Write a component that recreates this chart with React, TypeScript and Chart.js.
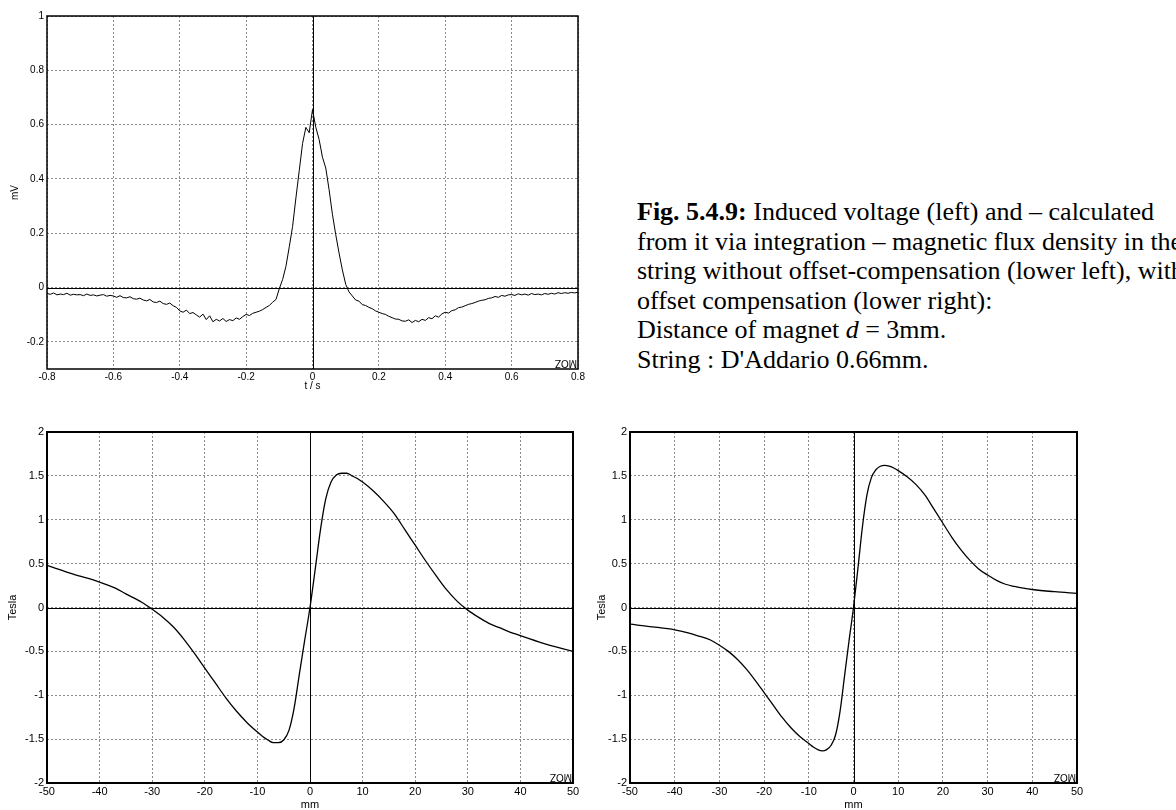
import React, { useEffect, useRef } from "react";
import { Chart, registerables } from "chart.js";

Chart.register(...registerables);

// ---------- Top chart: induced voltage (mV) vs t (s) ----------
const voltageStartT = -0.8;
const voltageStepT = 0.01;
const voltageValues = [
  -0.022, -0.025, -0.02, -0.027, -0.024, -0.026, -0.021, -0.028, -0.025, -0.027,
  -0.026, -0.03, -0.024, -0.029, -0.027, -0.031, -0.028, -0.026, -0.032, -0.029,
  -0.031, -0.036, -0.03, -0.037, -0.038, -0.034, -0.041, -0.043, -0.039, -0.046,
  -0.049, -0.044, -0.053, -0.055, -0.05, -0.059, -0.062, -0.057, -0.067, -0.073,
  -0.086, -0.091, -0.083, -0.096, -0.092, -0.101, -0.109, -0.098, -0.118, -0.104,
  -0.126, -0.117, -0.123, -0.114, -0.125, -0.118, -0.122, -0.112, -0.117, -0.107,
  -0.099, -0.103, -0.095, -0.091, -0.087, -0.081, -0.073, -0.066, -0.054, -0.044,
  -0.004, 0.03, 0.078, 0.15, 0.225, 0.33, 0.43, 0.53, 0.59, 0.57,
  0.655, 0.59, 0.545, 0.48, 0.44, 0.36, 0.27, 0.195, 0.127, 0.065,
  0.012, -0.016, -0.031, -0.046, -0.05, -0.063, -0.066, -0.073, -0.078, -0.086,
  -0.091, -0.096, -0.099, -0.106, -0.111, -0.116, -0.117, -0.123, -0.124, -0.119,
  -0.129, -0.121, -0.126, -0.117, -0.121, -0.111, -0.115, -0.104, -0.109, -0.097,
  -0.091, -0.094, -0.085, -0.082, -0.074, -0.072, -0.067, -0.062, -0.059, -0.055,
  -0.05, -0.047, -0.045, -0.04, -0.038, -0.033, -0.036, -0.029, -0.032, -0.027,
  -0.026, -0.029, -0.023, -0.027, -0.024, -0.028, -0.022, -0.026, -0.024, -0.027,
  -0.022, -0.025, -0.021, -0.024, -0.019, -0.022, -0.019, -0.021, -0.018, -0.02,
  -0.017,
];
const voltageXTicks = [-0.8, -0.6, -0.4, -0.2, 0, 0.2, 0.4, 0.6, 0.8];
const voltageXLabels = ["-0.8", "-0.6", "-0.4", "-0.2", "0", "0.2", "0.4", "0.6", "0.8"];
const voltageYTicks = [-0.2, 0, 0.2, 0.4, 0.6, 0.8, 1];
const voltageYLabels = ["-0.2", "0", "0.2", "0.4", "0.6", "0.8", "1"];

// ---------- Bottom charts: flux density (Tesla) vs position (mm) ----------
const positionMm = [
  -50, -45, -40, -37, -35, -32, -30, -28, -26, -24, -22, -20, -18, -16, -14, -12, -10,
  -9, -8, -7, -6, -5, -4, -3, -2, -1, 0, 1, 2, 3, 4, 5, 6, 7, 8, 9, 10,
  12, 14, 16, 18, 20, 22, 24, 26, 28, 30, 32, 34, 36, 38, 40, 45, 50,
];
const fluxUncompensated = [
  0.48, 0.38, 0.29, 0.22, 0.155, 0.06, -0.02, -0.11, -0.22, -0.36, -0.52, -0.69, -0.86, -1.03, -1.18, -1.31, -1.42,
  -1.47, -1.51, -1.54, -1.54, -1.51, -1.4, -1.14, -0.75, -0.37, 0, 0.44, 0.89, 1.24, 1.43, 1.51, 1.53, 1.53, 1.5, 1.47, 1.43,
  1.33, 1.21, 1.07, 0.89, 0.71, 0.53, 0.36, 0.2, 0.07, -0.03, -0.11, -0.18, -0.23, -0.28, -0.32, -0.42, -0.5,
];
const fluxCompensated = [
  -0.19, -0.22, -0.255, -0.29, -0.32, -0.37, -0.43, -0.5, -0.59, -0.7, -0.83, -0.97, -1.11, -1.25, -1.37, -1.47, -1.55,
  -1.59, -1.62, -1.635, -1.62, -1.57, -1.45, -1.18, -0.78, -0.38, 0, 0.45, 0.92, 1.28, 1.48, 1.57, 1.61, 1.62, 1.61, 1.59, 1.56,
  1.49, 1.4, 1.28, 1.12, 0.96, 0.8, 0.66, 0.54, 0.44, 0.37, 0.31, 0.265, 0.24, 0.22, 0.205, 0.18, 0.16,
];
const mmXTicks = [-50, -40, -30, -20, -10, 0, 10, 20, 30, 40, 50];
const mmXLabels = ["-50", "-40", "-30", "-20", "-10", "0", "10", "20", "30", "40", "50"];
const teslaYTicks = [-2, -1.5, -1, -0.5, 0, 0.5, 1, 1.5, 2];
const teslaYLabels = ["-2", "-1.5", "-1", "-0.5", "0", "0.5", "1", "1.5", "2"];

const captionLines = [
  "from it via integration \u2013 magnetic flux density in the",
  "string without offset-compensation (lower left), with",
  "offset compensation (lower right):",
];

const SANS = "'Liberation Sans', Arial, Helvetica, sans-serif";

const framePlugin = {
  id: "mozFrame",
  beforeDatasetsDraw(chart: any) {
    const { ctx, chartArea, scales } = chart;
    const { left, right, top, bottom } = chartArea;
    const fw = chart.options.plugins.mozFrame?.frameWidth ?? 1.5;
    ctx.save();
    ctx.strokeStyle = "#000";
    ctx.lineWidth = 1;
    const x0 = Math.round(scales.x.getPixelForValue(0)) + 0.5;
    const y0 = Math.round(scales.y.getPixelForValue(0)) + 0.5;
    ctx.beginPath();
    ctx.moveTo(x0, top);
    ctx.lineTo(x0, bottom);
    ctx.moveTo(left, y0);
    ctx.lineTo(right, y0);
    ctx.stroke();
    ctx.lineWidth = fw;
    ctx.strokeRect(left, top, right - left, bottom - top);
    ctx.restore();
  },
  afterDatasetsDraw(chart: any) {
    const { ctx, chartArea } = chart;
    ctx.save();
    ctx.translate(chartArea.right - 12, chartArea.bottom - 6);
    ctx.rotate(Math.PI);
    ctx.fillStyle = "#000";
    ctx.font = `10px ${SANS}`;
    ctx.textAlign = "center";
    ctx.textBaseline = "middle";
    ctx.fillText("MOZ", 0, 0);
    ctx.restore();
  },
};

type PanelProps = {
  left: number;
  top: number;
  width: number;
  height: number;
  xs: number[];
  ys: number[];
  xMin: number;
  xMax: number;
  yMin: number;
  yMax: number;
  xTicks: number[];
  xLabels: string[];
  yTicks: number[];
  yLabels: string[];
  xTitle: string;
  yTitle: string;
  pad: { top: number; right: number };
  yAxisWidth: number;
  xAxisHeight: number;
  yTitlePad: number;
  fontSize: number;
  smooth: boolean;
  lineWidth: number;
  frameWidth: number;
};

function Panel(p: PanelProps) {
  const ref = useRef<HTMLCanvasElement | null>(null);
  useEffect(() => {
    if (!ref.current) return;
    const data = p.xs.map((x, i) => ({ x, y: p.ys[i] }));
    const gridOpts = {
      color: "#8c8c8c",
      lineWidth: 1,
      drawTicks: false,
    };
    const chart = new Chart(ref.current, {
      type: "line",
      data: {
        datasets: [
          {
            data,
            borderColor: "#000",
            borderWidth: p.lineWidth,
            pointRadius: 0,
            tension: p.smooth ? 0.4 : 0,
            cubicInterpolationMode: p.smooth ? "monotone" : "default",
            fill: false,
          },
        ],
      },
      options: {
        responsive: false,
        animation: false,
        parsing: false as any,
        normalized: true,
        layout: { padding: { top: p.pad.top, right: p.pad.right, left: 0, bottom: 0 } },
        plugins: {
          legend: { display: false },
          tooltip: { enabled: false },
          mozFrame: { frameWidth: p.frameWidth },
        } as any,
        scales: {
          x: {
            type: "linear",
            min: p.xMin,
            max: p.xMax,
            grid: gridOpts,
            border: { display: false, dash: [2, 2] },
            afterBuildTicks: (s: any) => {
              s.ticks = p.xTicks.map((v) => ({ value: v }));
            },
            afterFit: (s: any) => {
              s.height = p.xAxisHeight;
            },
            ticks: {
              autoSkip: false,
              maxRotation: 0,
              padding: 2,
              color: "#000",
              font: { family: SANS, size: p.fontSize },
              callback: (_v: any, i: number) => p.xLabels[i],
            },
            title: {
              display: true,
              text: p.xTitle,
              color: "#000",
              padding: { top: 0, bottom: 0 },
              font: { family: SANS, size: p.fontSize, lineHeight: 1.2 },
            },
          },
          y: {
            type: "linear",
            min: p.yMin,
            max: p.yMax,
            grid: gridOpts,
            border: { display: false, dash: [2, 2] },
            afterBuildTicks: (s: any) => {
              s.ticks = p.yTicks.map((v) => ({ value: v }));
            },
            afterFit: (s: any) => {
              s.width = p.yAxisWidth;
            },
            ticks: {
              autoSkip: false,
              padding: 3,
              color: "#000",
              font: { family: SANS, size: p.fontSize },
              callback: (_v: any, i: number) => p.yLabels[i],
            },
            title: {
              display: true,
              text: p.yTitle,
              color: "#000",
              padding: { top: p.yTitlePad, bottom: 0 },
              font: { family: SANS, size: p.fontSize, lineHeight: 1.2 },
            },
          },
        },
      },
      plugins: [framePlugin],
    } as any);
    return () => chart.destroy();
  }, []);
  return (
    <canvas
      ref={ref}
      width={p.width}
      height={p.height}
      style={{ position: "absolute", left: p.left, top: p.top, width: p.width, height: p.height }}
    />
  );
}

export default function App() {
  const voltageTimes = voltageValues.map((_, i) => +(voltageStartT + i * voltageStepT).toFixed(3));
  return (
    <div
      style={{
        position: "absolute",
        left: 0,
        top: 0,
        width: 1176,
        height: 810,
        overflow: "hidden",
        background: "#fff",
      }}
    >
      <Panel
        left={0}
        top={0}
        width={600}
        height={392}
        xs={voltageTimes}
        ys={voltageValues}
        xMin={-0.8}
        xMax={0.8}
        yMin={-0.3}
        yMax={1}
        xTicks={voltageXTicks}
        xLabels={voltageXLabels}
        yTicks={voltageYTicks}
        yLabels={voltageYLabels}
        xTitle="t / s"
        yTitle="mV"
        pad={{ top: 16, right: 22 }}
        yAxisWidth={47}
        xAxisHeight={23}
        yTitlePad={9}
        fontSize={10}
        smooth={false}
        lineWidth={1}
        frameWidth={1.5}
      />
      <Panel
        left={0}
        top={420}
        width={586}
        height={392}
        xs={positionMm}
        ys={fluxUncompensated}
        xMin={-50}
        xMax={50}
        yMin={-2}
        yMax={2}
        xTicks={mmXTicks}
        xLabels={mmXLabels}
        yTicks={teslaYTicks}
        yLabels={teslaYLabels}
        xTitle="mm"
        yTitle="Tesla"
        pad={{ top: 12, right: 13 }}
        yAxisWidth={47}
        xAxisHeight={29}
        yTitlePad={6}
        fontSize={11}
        smooth={true}
        lineWidth={1.3}
        frameWidth={2}
      />
      <Panel
        left={588}
        top={420}
        width={588}
        height={392}
        xs={positionMm}
        ys={fluxCompensated}
        xMin={-50}
        xMax={50}
        yMin={-2}
        yMax={2}
        xTicks={mmXTicks}
        xLabels={mmXLabels}
        yTicks={teslaYTicks}
        yLabels={teslaYLabels}
        xTitle="mm"
        yTitle="Tesla"
        pad={{ top: 12, right: 99 }}
        yAxisWidth={42}
        xAxisHeight={29}
        yTitlePad={7}
        fontSize={11}
        smooth={true}
        lineWidth={1.3}
        frameWidth={2}
      />
      <div
        style={{
          position: "absolute",
          left: 637,
          top: 197,
          fontFamily: "'Liberation Serif', 'Times New Roman', serif",
          fontSize: 26,
          lineHeight: "29.5px",
          whiteSpace: "pre",
          color: "#000",
        }}
      >
        <div>
          <b>Fig. 5.4.9:</b> Induced voltage (left) and {"\u2013"} calculated
        </div>
        {captionLines.map((l, i) => (
          <div key={i}>{l}</div>
        ))}
        <div>
          Distance of magnet <i>d</i> = 3mm.
        </div>
        <div>String : D'Addario 0.66mm.</div>
      </div>
    </div>
  );
}
